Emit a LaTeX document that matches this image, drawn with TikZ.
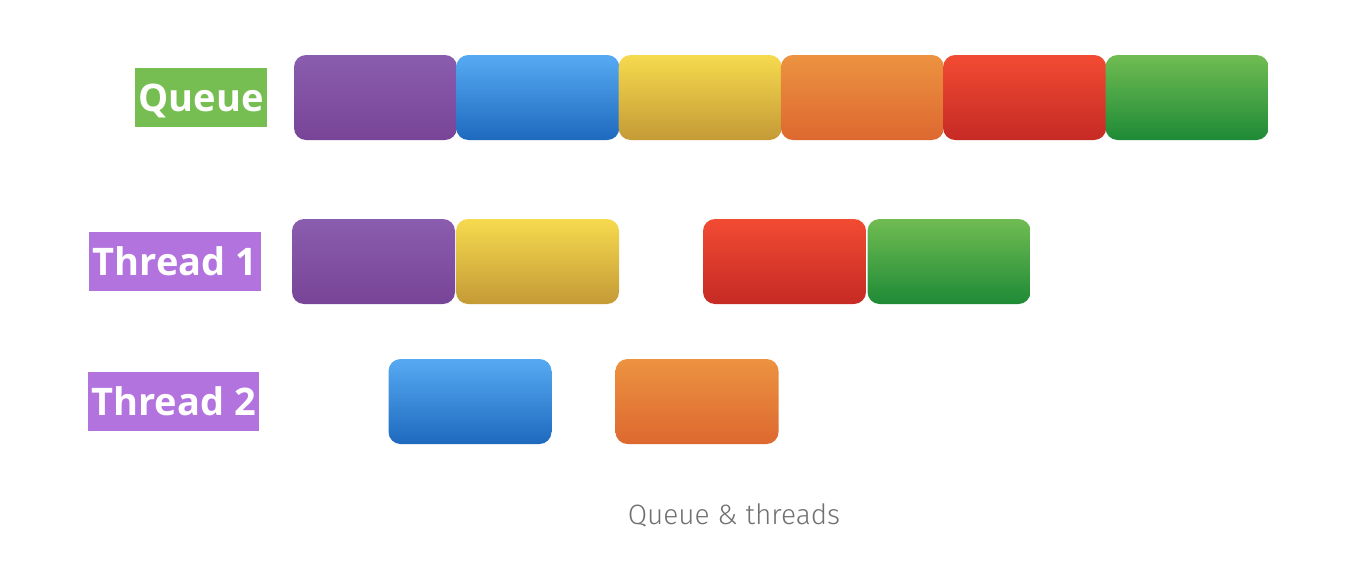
\documentclass[tikz,border=0pt]{standalone}
\usepackage{fontspec}
\setmainfont{Open Sans}
\newfontfamily\captionfont{Fira Sans Light}
\usepackage{xcolor}
\definecolor{cPurpleT}{HTML}{8A5DAE}
\definecolor{cPurpleB}{HTML}{784497}
\definecolor{cBlueT}{HTML}{56AAF2}
\definecolor{cBlueB}{HTML}{1E69BE}
\definecolor{cYellowT}{HTML}{F6DA4E}
\definecolor{cYellowB}{HTML}{C49A36}
\definecolor{cOrangeT}{HTML}{EC9340}
\definecolor{cOrangeB}{HTML}{DD6830}
\definecolor{cRedT}{HTML}{F24B33}
\definecolor{cRedB}{HTML}{C52A24}
\definecolor{cGreenT}{HTML}{70BC52}
\definecolor{cGreenB}{HTML}{1E8A36}
\definecolor{cLabelQ}{HTML}{76BE52}
\definecolor{cLabelT}{HTML}{B273DE}
\definecolor{cCaption}{HTML}{707070}
\usepackage{tikz}
\usetikzlibrary{positioning}
\tikzset{
  job/.style={rounded corners=12pt,minimum width=163pt,minimum height=85pt,
    inner sep=0pt,outer sep=0pt},
  job-purple/.style={job,top color=cPurpleT,bottom color=cPurpleB},
  job-blue/.style={job,top color=cBlueT,bottom color=cBlueB},
  job-yellow/.style={job,top color=cYellowT,bottom color=cYellowB},
  job-orange/.style={job,top color=cOrangeT,bottom color=cOrangeB},
  job-red/.style={job,top color=cRedT,bottom color=cRedB},
  job-green/.style={job,top color=cGreenT,bottom color=cGreenB},
  row-label/.style={text=white,font=\fontsize{38}{40}\selectfont\bfseries,
    minimum height=59pt,inner sep=0pt,text height=27pt,text depth=0pt},
}

\begin{document}
\begin{tikzpicture}[x=1pt,y=-1pt]
  \useasboundingbox (0,0) rectangle (1366,568);
  % queue
  \node[row-label,fill=cLabelQ,minimum width=132pt] (lbl-queue) at (201,97.5) {Queue};
  \node[job-purple] (q1) at (375.5,97.5) {};
  \node[job-blue,right=-0.7pt of q1] (q2) {};
  \node[job-yellow,right=-0.7pt of q2] (q3) {};
  \node[job-orange,right=-0.7pt of q3] (q4) {};
  \node[job-red,right=-0.7pt of q4] (q5) {};
  \node[job-green,right=-0.7pt of q5] (q6) {};
  % thread 1
  \node[row-label,fill=cLabelT,minimum width=172pt] (lbl-t1) at (175,261.5) {Thread 1};
  \node[job-purple] (t1a) at (373.5,261.5) {};
  \node[job-yellow,right=1pt of t1a] (t1b) {};
  \node[job-red] (t1c) at (784.5,261.5) {};
  \node[job-green,right=1.5pt of t1c] (t1d) {};
  % thread 2
  \node[row-label,fill=cLabelT,minimum width=171pt] (lbl-t2) at (173.5,401.5) {Thread 2};
  \node[job-blue] (t2a) at (470,401.5) {};
  \node[job-orange] (t2b) at (697,401.5) {};
  % caption
  \node[text=cCaption,font=\captionfont\fontsize{28}{30}\selectfont] (caption) at (734,515) {Queue \& threads};
\end{tikzpicture}
\end{document}
